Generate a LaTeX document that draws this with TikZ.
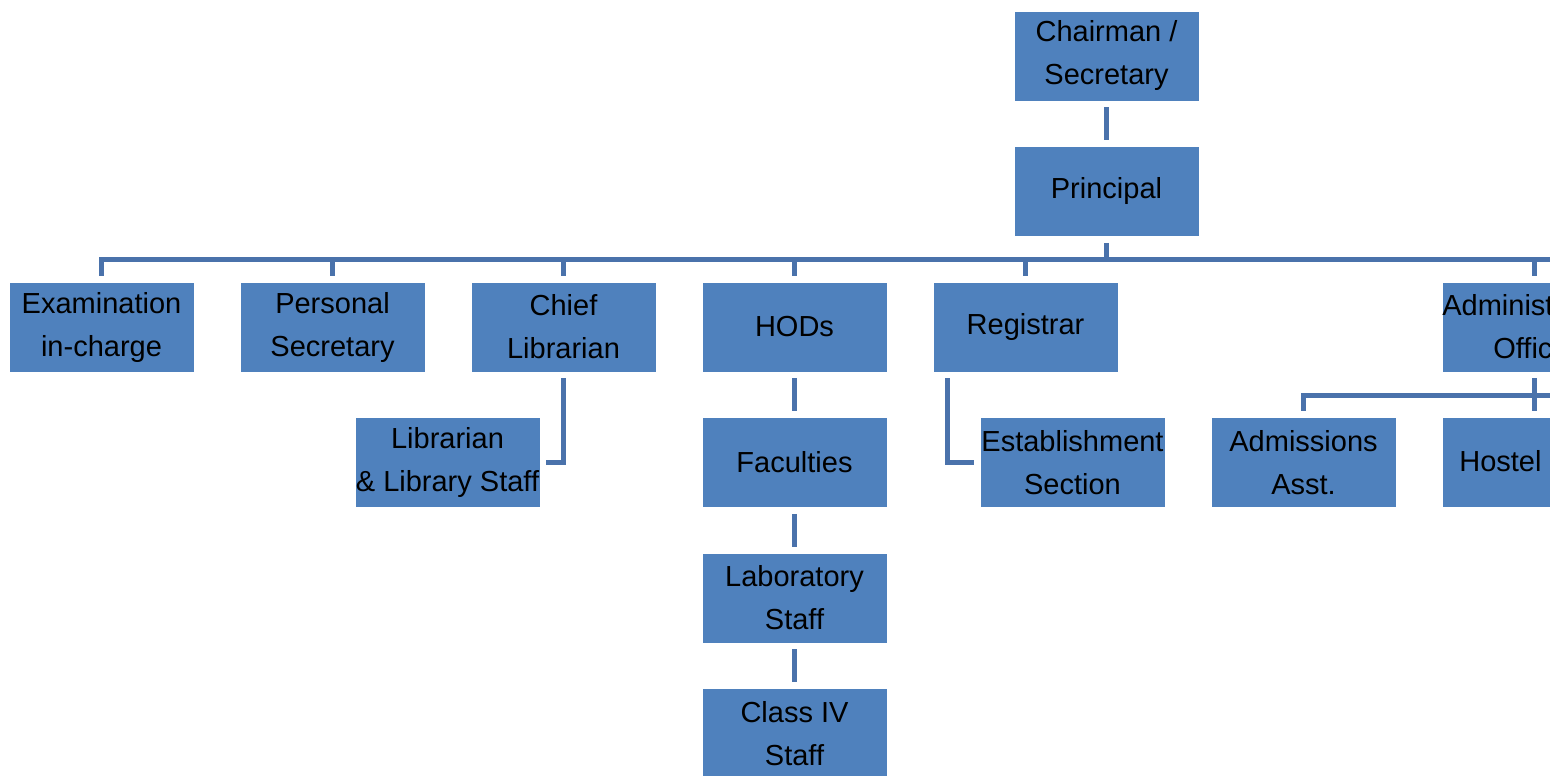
\documentclass[tikz,border=0pt]{standalone}
\usepackage{fontspec}
\setmainfont{Liberation Sans}
\definecolor{boxblue}{HTML}{4F81BD}
\definecolor{lineblue}{HTML}{4A72AB}
\begin{document}
\begin{tikzpicture}[x=1pt,y=-1pt,
  orgbox/.style={fill=boxblue, draw=white, line width=0.6pt, minimum width=185pt, minimum height=90pt,
    inner sep=0pt, align=center, text=black, font=\fontsize{29}{43}\selectfont},
  conn/.style={draw=lineblue, line width=5pt, line cap=butt, line join=miter}]
\useasboundingbox (0,0) rectangle (1550,776);
\clip (0,0) rectangle (1550,776);
\fill[white] (0,0) rectangle (1550,776);
% nodes
\node[orgbox] (chair) at (1106.5,56) {Chairman /\\Secretary};
\node[orgbox] (principal) at (1106.5,191.5) {Principal};
\node[orgbox] (exam) at (101.5,327) {Examination\\in-charge};
\node[orgbox] (ps) at (332.5,327) {Personal\\Secretary};
\node[orgbox] (chief) at (563.5,327) {Chief\\Librarian};
\node[orgbox] (hods) at (794.5,327) {HODs};
\node[orgbox] (reg) at (1025.5,327) {Registrar};
\node[orgbox] (admin) at (1534.5,327) {};
\node[orgbox, minimum width=0pt, minimum height=0pt, fill=none, draw=none, anchor=west] (admintxt) at (1442,327) {Administ\\\hspace*{50pt}Offic};
\node[orgbox] (lib) at (447.5,462.5) {Librarian\\\& Library Staff};
\node[orgbox] (fac) at (794.5,462.5) {Faculties};
\node[orgbox] (est) at (1072.5,462.5) {Establishment\\Section};
\node[orgbox] (adm) at (1303.5,462.5) {Admissions\\Asst.};
\node[orgbox] (hostel) at (1534.5,462.5) {};
\node[orgbox, minimum width=0pt, minimum height=0pt, fill=none, draw=none, anchor=west] (hosteltxt) at (1459,461) {Hostel};
\node[orgbox] (lab) at (794.5,598) {Laboratory\\Staff};
\node[orgbox] (cls) at (794.5,733.5) {Class IV\\Staff};
% connectors
\coordinate (busR) at (1560,259);
\coordinate (bus2R) at (1560,395);
\draw[conn] ([yshift=-6pt]chair.south) -- ([yshift=6pt]principal.north);
\draw[conn] ([yshift=-6pt]principal.south) -- (principal.south |- busR);
\draw[conn] ([xshift=-2.5pt]exam.north |- busR) -- (busR);
\foreach \n in {exam,ps,chief,hods,reg,admin}{
  \draw[conn] (\n.north |- busR) -- ([yshift=6pt]\n.north);
}
\draw[conn] ([yshift=-6pt]chief.south) |- ([xshift=6pt]lib.east);
\draw[conn] ([xshift=15pt,yshift=-6pt]reg.south west) |- ([xshift=-6pt]est.west);
\draw[conn] ([yshift=-6pt]hods.south) -- ([yshift=6pt]fac.north);
\draw[conn] ([yshift=-6pt]fac.south) -- ([yshift=6pt]lab.north);
\draw[conn] ([yshift=-6pt]lab.south) -- ([yshift=6pt]cls.north);
\draw[conn] ([yshift=-6pt]admin.south) -- ([yshift=6pt]hostel.north);
\draw[conn] ([xshift=-2.5pt]adm.north |- bus2R) -- (bus2R);
\draw[conn] (adm.north |- bus2R) -- ([yshift=6pt]adm.north);
\end{tikzpicture}
\end{document}
